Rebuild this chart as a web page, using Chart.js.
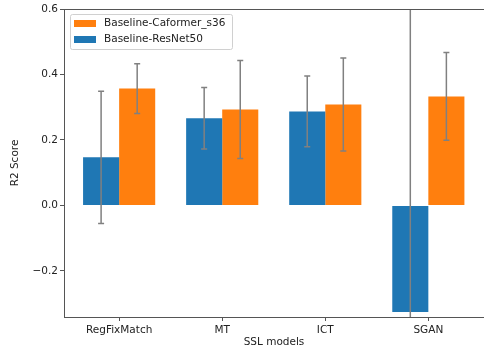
<!DOCTYPE html>
<html lang="en">
<head>
  <meta charset="UTF-8">
  <title>R2 Score by SSL model</title>
  <script src="https://cdn.jsdelivr.net/npm/chart.js"></script>
  <style>
    body { margin: 0; background: #fff; }
  </style>
</head>
<body>
  <canvas id="r2Chart" width="484" height="352"></canvas>

  <script>
    const categories = ["RegFixMatch", "MT", "ICT", "SGAN"];
    const resnetR2 = [0.147, 0.266, 0.287, -0.326];
    const resnetErr = [0.202, 0.094, 0.108, 1.0];
    const caformerR2 = [0.357, 0.293, 0.308, 0.333];
    const caformerErr = [0.076, 0.150, 0.142, 0.134];
    const yTicks = [-0.2, 0.0, 0.2, 0.4, 0.6];

    const FONT = "'DejaVu Sans', sans-serif";
    const AXIS_COLOR = "#555";

    // gray error bars with small caps, clipped to the plot area
    const errorBars = {
      id: "errorBars",
      afterDatasetsDraw(chart) {
        const ctx = chart.ctx;
        const area = chart.chartArea;
        const yScale = chart.scales.y;
        ctx.save();
        ctx.strokeStyle = "#808080";
        ctx.lineWidth = 1.5;
        chart.data.datasets.forEach((ds, di) => {
          const meta = chart.getDatasetMeta(di);
          meta.data.forEach((bar, i) => {
            const v = ds.data[i], e = ds.errors[i];
            const yTop = yScale.getPixelForValue(v + e);
            const yBot = yScale.getPixelForValue(v - e);
            const x = bar.x;
            ctx.beginPath();
            ctx.moveTo(x, Math.max(yTop, area.top));
            ctx.lineTo(x, Math.min(yBot, area.bottom));
            [yTop, yBot].forEach(y => {
              if (y >= area.top && y <= area.bottom) {
                ctx.moveTo(x - 3, y);
                ctx.lineTo(x + 3, y);
              }
            });
            ctx.stroke();
          });
        });
        ctx.restore();
      }
    };

    // top spine and boxed legend inside the plot
    const frameAndLegend = {
      id: "frameAndLegend",
      afterDraw(chart) {
        const ctx = chart.ctx;
        const area = chart.chartArea;
        ctx.save();
        ctx.strokeStyle = AXIS_COLOR;
        ctx.lineWidth = 1;
        ctx.beginPath();
        ctx.moveTo(area.left, area.top + 0.5);
        ctx.lineTo(area.right, area.top + 0.5);
        ctx.stroke();

        const x0 = area.left + 6, y0 = area.top + 5;
        ctx.fillStyle = "rgba(255,255,255,0.8)";
        ctx.strokeStyle = "#d0d0d0";
        ctx.beginPath();
        ctx.roundRect(x0 + 0.5, y0 + 0.5, 162, 35, 2);
        ctx.fill();
        ctx.stroke();

        const items = chart.data.datasets.slice().reverse();
        ctx.font = "10.5px " + FONT;
        ctx.textBaseline = "middle";
        items.forEach((ds, k) => {
          const cy = y0 + 9.5 + k * 16;
          ctx.fillStyle = ds.backgroundColor;
          ctx.fillRect(x0 + 4, cy - 3.5, 22, 7);
          ctx.fillStyle = "#222";
          ctx.fillText(ds.label, x0 + 34, cy);
        });
        ctx.restore();
      }
    };

    new Chart(document.getElementById("r2Chart").getContext("2d"), {
      type: "bar",
      data: {
        labels: categories.map((_, i) => i),
        datasets: [
          {
            label: "Baseline-ResNet50",
            data: resnetR2,
            errors: resnetErr,
            backgroundColor: "#1f77b4"
          },
          {
            label: "Baseline-Caformer_s36",
            data: caformerR2,
            errors: caformerErr,
            backgroundColor: "#ff7f0e"
          }
        ]
      },
      options: {
        responsive: false,
        animation: false,
        categoryPercentage: 0.7,
        barPercentage: 1.0,
        layout: { padding: { top: 9, right: 0, left: 0, bottom: 0 } },
        plugins: {
          legend: { display: false },
          tooltip: { enabled: false }
        },
        scales: {
          x: {
            type: "linear",
            offset: false,
            min: -0.535,
            max: 3.54,
            afterBuildTicks: scale => {
              scale.ticks = categories.map((_, i) => ({ value: i }));
            },
            afterFit: scale => { scale.height = 35; },
            grid: { offset: false, drawOnChartArea: false, tickLength: 4, tickColor: AXIS_COLOR },
            border: { color: AXIS_COLOR, width: 1 },
            ticks: {
              padding: 3,
              color: "#222",
              font: { family: FONT, size: 10.5 },
              callback: value => categories[value]
            },
            title: {
              display: true,
              text: "SSL models",
              color: "#222",
              font: { family: FONT, size: 10.5 },
              padding: { top: 0, bottom: 3 }
            }
          },
          y: {
            min: -0.341,
            max: 0.6,
            afterBuildTicks: scale => {
              scale.ticks = yTicks.map(v => ({ value: v }));
            },
            afterFit: scale => { scale.width = 64; },
            grid: { drawOnChartArea: false, tickLength: 4, tickColor: AXIS_COLOR },
            border: { color: AXIS_COLOR, width: 1 },
            ticks: {
              padding: 2,
              color: "#222",
              font: { family: FONT, size: 10.5 },
              callback: value => value.toFixed(1).replace("-", "\u2212")
            },
            title: {
              display: true,
              text: "R2 Score",
              color: "#222",
              font: { family: FONT, size: 10.5 },
              padding: { top: 9, bottom: 0 }
            }
          }
        }
      },
      plugins: [errorBars, frameAndLegend]
    });
  </script>
</body>
</html>
